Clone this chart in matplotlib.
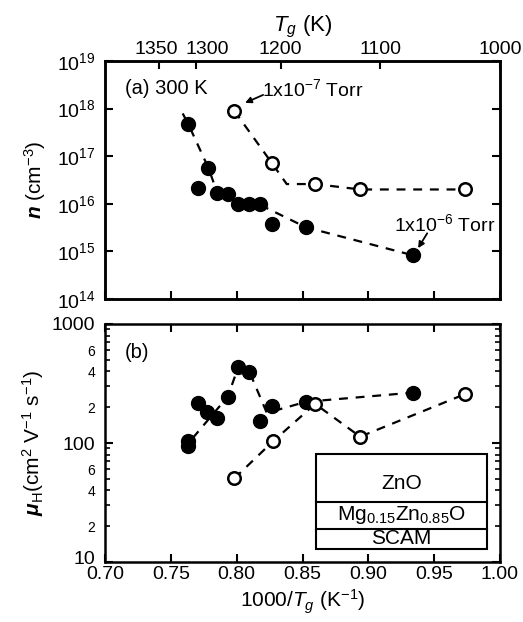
import matplotlib
matplotlib.use("Agg")
import matplotlib.pyplot as plt
import matplotlib.transforms as mtransforms
import numpy as np
from matplotlib.ticker import LogLocator, FixedLocator, FuncFormatter, NullLocator

plt.rcParams['font.family'] = ['Liberation Sans', 'DejaVu Sans']
plt.rcParams['mathtext.fontset'] = 'custom'
plt.rcParams['mathtext.rm'] = 'Liberation Sans'
plt.rcParams['mathtext.it'] = 'Liberation Sans:italic'
plt.rcParams['mathtext.bf'] = 'Liberation Sans:bold'
plt.rcParams['mathtext.bfit'] = 'Liberation Sans:bold:italic'

# ---- data: (a) carrier concentration ----
x_n_6 = [0.7633, 0.7709, 0.7785, 0.7853, 0.7937, 0.8013, 0.8097, 0.8178, 0.8267, 0.8527, 0.9338]
n_6 = [4.7e17, 2.1e16, 5.7e16, 1.7e16, 1.6e16, 9.9e15, 9.8e15, 9.8e15, 3.8e15, 3.2e15, 8.3e14]
x_n_7 = [0.7983, 0.8267, 0.8596, 0.8938, 0.9736]
n_7 = [8.9e17, 7.2e16, 2.6e16, 2.0e16, 2.0e16]
# guide-to-eye dashed lines
gx_n_6 = [0.759, 0.7633, 0.7785, 0.7853, 0.7937, 0.8013, 0.8178, 0.8527, 0.9338]
gn_6 = [7.9e17, 4.7e17, 5.7e16, 1.7e16, 1.55e16, 1.0e16, 9.5e15, 3.2e15, 8.3e14]
gx_n_7 = [0.7983, 0.8267, 0.838, 0.8596, 0.8938, 0.9736]
gn_7 = [8.9e17, 7.2e16, 2.6e16, 2.6e16, 2.0e16, 2.0e16]

# ---- data: (b) Hall mobility ----
x_mu_6 = [0.7628, 0.7628, 0.7704, 0.7777, 0.7853, 0.7932, 0.8013, 0.8097, 0.8178, 0.8267, 0.8527, 0.9338]
mu_6 = [95, 104, 218, 183, 163, 245, 437, 397, 153, 205, 222, 265]
x_mu_7 = [0.7983, 0.8275, 0.8596, 0.8938, 0.9736]
mu_7 = [50.5, 103, 213, 113, 258]
gx_mu_6 = [0.759, 0.7628, 0.7932, 0.8013, 0.8097, 0.8229, 0.8527, 0.9338]
gmu_6 = [85, 98, 245, 437, 397, 179, 222, 265]

top_T = [1350, 1300, 1200, 1100, 1000]
layers = ['ZnO', r'Mg$_{0.15}$Zn$_{0.85}$O', 'SCAM']

fig = plt.figure(figsize=(5.23, 6.22), dpi=100)
L, W = 105/523, 395/523
ax1 = fig.add_axes([L, 1-299/622, W, 238/622])
ax2 = fig.add_axes([L, 1-562/622, W, 238/622])

fx = 14     # x tick labels
fy = 14     # y tick labels
fl = 15     # axis labels
for ax in (ax1, ax2):
    ax.set_xlim(0.70, 1.00)
    ax.set_yscale('log')
    for s in ax.spines.values():
        s.set_linewidth(1.8)
    ax.tick_params(which='major', direction='in', length=6, width=1.5, right=True)
    ax.tick_params(axis='x', labelsize=fx, pad=3)
    ax.tick_params(axis='y', labelsize=fy, pad=7)
    ax.tick_params(which='minor', direction='in', length=3.5, width=1.2, right=True)
    ax.set_xticks(np.arange(0.70, 1.001, 0.05))

ms = 10
dash = (4, 3.5)
# panel a
ax1.set_ylim(1e14, 1e19)
ax1.plot(gx_n_6, gn_6, 'k--', lw=1.6, dashes=dash, zorder=1)
ax1.plot(gx_n_7, gn_7, 'k--', lw=1.6, dashes=dash, zorder=1)
ax1.plot(x_n_6, n_6, 'o', color='k', ms=ms, zorder=3)
ax1.plot(x_n_7, n_7, 'o', mfc='white', mec='k', mew=1.8, ms=ms-1, zorder=3)
ax1.yaxis.set_major_locator(LogLocator(base=10, numticks=10))
ax1.yaxis.set_minor_locator(NullLocator())
ax1.tick_params(axis='x', labelbottom=False, top=False)
ax1.set_ylabel(r'$\boldsymbol{n}$ (cm$^{-3}$)', fontsize=fl, labelpad=6)
ax1.text(0.7152, 2.6e18, '(a) 300 K', fontsize=fl-0.5, va='center', ha='left')
ax1.text(0.8195, 2.6e18, r'1x10$^{-7}$ Torr', fontsize=fx, va='center', ha='left')
ax1.annotate('', xy=(0.8064, 1.32e18), xytext=(0.8201, 1.94e18),
             arrowprops=dict(arrowstyle='-|>', color='k', lw=1.3, mutation_scale=9,
                             shrinkA=0, shrinkB=0))
ax1.text(0.9196, 3.8e15, r'1x10$^{-6}$ Torr', fontsize=fx, va='center', ha='left')
ax1.annotate('', xy=(0.9378, 1.17e15), xytext=(0.9447, 2.4e15),
             arrowprops=dict(arrowstyle='-|>', color='k', lw=1.3, mutation_scale=9,
                             shrinkA=0, shrinkB=0))

axt = ax1.twiny()
axt.set_xlim(0.70, 1.00)
axt.xaxis.set_major_locator(FixedLocator([1000.0/t for t in top_T]))
axt.xaxis.set_major_formatter(FuncFormatter(lambda v, p: '%d' % int(round(1000.0/v))))
axt.tick_params(which='major', direction='in', length=6, width=1.5, labelsize=fy, pad=2)
axt.set_xlabel(r'$T_g$ (K)', fontsize=fl+1, labelpad=7)
for s in axt.spines.values():
    s.set_linewidth(1.8)

# panel b
ax2.set_ylim(10, 1000)
ax2.plot(gx_mu_6, gmu_6, 'k--', lw=1.6, dashes=dash, zorder=1)
ax2.plot(x_mu_7, mu_7, 'k--', lw=1.6, dashes=dash, zorder=1)
ax2.plot(x_mu_6, mu_6, 'o', color='k', ms=ms, zorder=3)
ax2.plot(x_mu_7, mu_7, 'o', mfc='white', mec='k', mew=1.8, ms=ms-1, zorder=3)
ax2.yaxis.set_major_locator(FixedLocator([10, 100, 1000]))
ax2.yaxis.set_major_formatter(FuncFormatter(lambda v, p: '%d' % v))
ax2.yaxis.set_minor_locator(LogLocator(base=10, subs=np.arange(2, 10), numticks=10))
ax2.yaxis.set_minor_formatter(FuncFormatter(
    lambda v, p: ('%d' % round(v / 10**np.floor(np.log10(v) + 1e-9)))
    if round(v / 10**np.floor(np.log10(v) + 1e-9)) in (2, 4, 6) else ''))
ax2.tick_params(axis='y', which='minor', labelsize=10, pad=7)
ax2.tick_params(axis='x', top=True)
ax2.xaxis.set_major_formatter(FuncFormatter(lambda v, p: '%.2f' % v))
ax2.set_xlabel(r'1000/$T_g$ (K$^{-1}$)', fontsize=fl, labelpad=3)
ax2.set_ylabel(r'$\boldsymbol{\mu}_{\rm H}$(cm$^2$ V$^{-1}$ s$^{-1}$)', fontsize=fl, labelpad=4)
ax2.text(0.7152, 580, '(b)', fontsize=fl-0.5, va='center', ha='left')

# layer schematic
x0, x1 = 0.534, 0.967
ybot, y1, y2, ytop = 0.055, 0.139, 0.252, 0.454
ax2.add_patch(plt.Rectangle((x0, ybot), x1-x0, ytop-ybot, transform=ax2.transAxes,
                            fill=True, fc='white', ec='k', lw=1.5, zorder=4))
for yy in (y1, y2):
    ax2.plot([x0, x1], [yy, yy], transform=ax2.transAxes, color='k', lw=1.5, zorder=5)
ymid = [0.5*(y2+ytop)-0.025, 0.5*(y1+y2), 0.5*(ybot+y1)]
for t, yy in zip(layers, ymid):
    ax2.text(0.5*(x0+x1), yy, t, transform=ax2.transAxes, ha='center', va='center',
             fontsize=fl, zorder=6)

# small label nudges, as in the reference
fig.canvas.draw()
for lab in ax2.yaxis.get_majorticklabels():
    if lab.get_text() == '10':
        lab.set_transform(lab.get_transform() +
                          mtransforms.ScaledTranslation(0, 0.045, fig.dpi_scale_trans))
for lab in axt.xaxis.get_majorticklabels():
    if lab.get_text() == '1300':
        lab.set_transform(lab.get_transform() +
                          mtransforms.ScaledTranslation(0.11, 0, fig.dpi_scale_trans))
    if lab.get_text() == '1350':
        lab.set_transform(lab.get_transform() +
                          mtransforms.ScaledTranslation(-0.02, 0, fig.dpi_scale_trans))

fig.savefig('out.png', dpi=100)
